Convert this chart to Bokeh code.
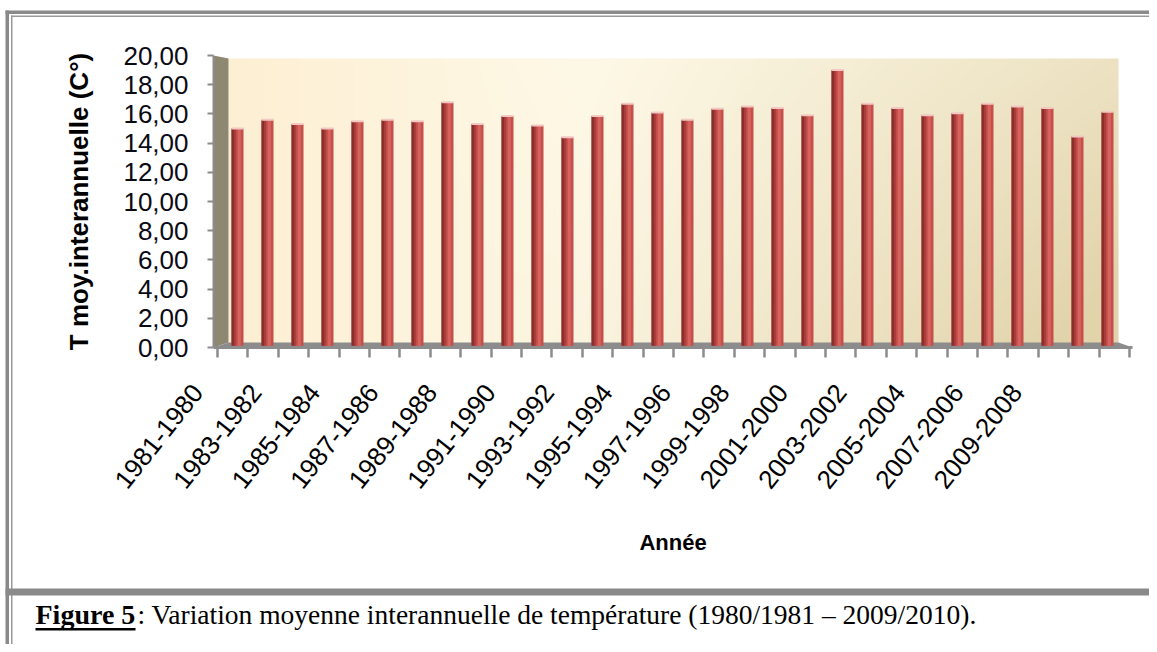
import numpy as np
from bokeh.plotting import figure
from bokeh.models import Range1d, FixedTicker, CustomJSTickFormatter, ColumnDataSource
from bokeh.core.properties import value
from bokeh.transform import dodge
from bokeh.embed import file_html
from bokeh.resources import INLINE

# ---------------- data ----------------
categories = ["1981-1980", "1982-1981", "1983-1982", "1984-1983", "1985-1984",
              "1986-1985", "1987-1986", "1988-1987", "1989-1988", "1990-1989",
              "1991-1990", "1992-1991", "1993-1992", "1994-1993", "1995-1994",
              "1996-1995", "1997-1996", "1998-1997", "1999-1998", "2000-1999",
              "2001-2000", "2002-2001", "2003-2002", "2004-2003", "2005-2004",
              "2006-2005", "2007-2006", "2008-2007", "2009-2008", "2010-2009"]
temperatures = [15.0, 15.6, 15.3, 15.0, 15.5, 15.6, 15.5, 16.8, 15.3, 15.85,
                15.2, 14.4, 15.85, 16.7, 16.1, 15.6, 16.35, 16.5, 16.4, 15.9,
                19.0, 16.7, 16.4, 15.9, 16.05, 16.7, 16.5, 16.4, 14.45, 16.15]
y_ticks = [0, 2, 4, 6, 8, 10, 12, 14, 16, 18, 20]
x_title = "Année"
y_title = "T moy.interannuelle (C°)"
caption_bold = "Figure 5"
caption_rest = ": Variation moyenne interannuelle de température (1980/1981 – 2009/2010)."

# ---------------- geometry ----------------
W, H = 1149, 644
FX0, FX1 = 213, 1132          # frame left/right in px
FY1, FY0 = 55, 347            # frame top/bottom in px
X0, X1 = -0.8, 29.833
Y0, Y1 = 0.0, 20.0


def dx(px):
    return X0 + (px - FX0) * (X1 - X0) / (FX1 - FX0)


def dy(py):
    return Y0 + (FY0 - py) * (Y1 - Y0) / (FY0 - FY1)


p = figure(width=W, height=H, output_backend="svg", toolbar_location=None,
           x_range=Range1d(X0, X1), y_range=Range1d(Y0, Y1),
           min_border_left=FX0, min_border_right=W - FX1,
           min_border_top=FY1, min_border_bottom=H - FY0)
p.background_fill_color = "white"
p.border_fill_color = "white"
p.outline_line_color = None
p.xgrid.visible = False
p.ygrid.visible = False

# ---------------- back wall (gradient) ----------------
Hh, Ww = 90, 450
u = np.linspace(0, 1, Ww)[None, :]
v = 1 - np.linspace(0, 1, Hh)[:, None]        # 0 at top, 1 at bottom
light = np.array([254, 249, 231], dtype=float)
peach = np.array([253, 239, 211], dtype=float)
dark = np.array([225, 211, 170], dtype=float)
w = np.clip(u / 0.4, 0, 1)[..., None]
c0 = peach * (1 - w) + light * w
t = np.clip(0.6 * np.maximum(u - 0.4, 0) / 0.6 + 0.5 * v * np.maximum(u - 0.2, 0) / 0.8, 0, 1)[..., None]
col = c0 * (1 - t) + dark * t
img = np.empty((Hh, Ww), dtype=np.uint32)
view = img.view(dtype=np.uint8).reshape((Hh, Ww, 4))
view[..., 0] = col[..., 0]
view[..., 1] = col[..., 1]
view[..., 2] = col[..., 2]
view[..., 3] = 255
wall_left, wall_right, wall_top = dx(228), dx(1118), dy(58)
p.image_rgba(image=[img], x=wall_left, y=0, dw=wall_right - wall_left, dh=wall_top)

# side wall and floor
p.patch([X0, wall_left, wall_left, X0], [0, 0.35, wall_top, Y1],
        fill_color="#8e8873", line_color=None)
p.patch([X0, X1, wall_right, wall_left], [0, 0, 0.35, 0.35],
        fill_color="#8c8c8c", line_color=None)

# ---------------- bars ----------------
idx = list(range(len(categories)))
src = ColumnDataSource(dict(x=idx, top=temperatures))
p.vbar(x="x", top="top", bottom=0.12, width=0.40, source=src,
       fill_color="#c4504c", line_color=None)
p.vbar(x=dodge("x", -0.15), top="top", bottom=0.12, width=0.10, source=src,
       fill_color="#8a2d2b", line_color=None)
p.vbar(x=dodge("x", -0.075), top="top", bottom=0.12, width=0.06, source=src,
       fill_color="#a83e3b", line_color=None)
p.vbar(x=dodge("x", 0.06), top="top", bottom=0.12, width=0.10, source=src,
       fill_color="#d8625d", line_color=None)
p.rect(x="x", y="top", width=0.40, height=2, height_units="screen", source=src,
       fill_color="#f1c8c2", line_color=None)

# ---------------- axes ----------------
tick_pos = [round(-0.667 + 1.0133 * k, 3) for k in range(len(categories) + 1)]
xa = p.xaxis[0]
xa.ticker = FixedTicker(ticks=tick_pos, minor_ticks=[])
xa.formatter = CustomJSTickFormatter(code="return '';")
xa.major_label_text_font_size = "0px"
xa.axis_line_color = "#8c8c8c"
xa.axis_line_width = 3
xa.major_tick_line_color = "#8c8c8c"
xa.major_tick_line_width = 2.5
xa.major_tick_out = 10
xa.major_tick_in = 0
xa.minor_tick_line_color = None
xa.axis_label = x_title
xa.axis_label_text_font = "Liberation Sans"
xa.axis_label_text_font_style = "bold"
xa.axis_label_text_font_size = "22px"
xa.axis_label_text_color = "#000000"
xa.axis_label_standoff = 172

ya = p.yaxis[0]
ya.ticker = FixedTicker(ticks=y_ticks, minor_ticks=[])
ya.formatter = CustomJSTickFormatter(code="return tick.toFixed(2).replace('.', ',');")
ya.major_label_text_font = "Liberation Sans"
ya.major_label_text_font_size = "26px"
ya.major_label_text_color = "#0a0a14"
ya.major_label_standoff = 19
ya.axis_line_color = "#8c8c8c"
ya.axis_line_width = 2
ya.major_tick_line_color = "#8c8c8c"
ya.major_tick_line_width = 2
ya.major_tick_out = 6
ya.major_tick_in = 0
ya.minor_tick_line_color = None
ya.axis_label = y_title
ya.axis_label_text_font = "Liberation Sans"
ya.axis_label_text_font_style = "bold"
ya.axis_label_text_font_size = "26px"
ya.axis_label_text_color = "#000000"
ya.axis_label_standoff = 26

# rotated category labels (every other category), drawn unclipped
lab_k = idx[::2]
step = dx(226.25) - dx(197)
lab_src = ColumnDataSource(dict(
    x=[dx(197) + step * k for k in lab_k],
    y=[dy(387)] * len(lab_k),
    text=[categories[k] for k in lab_k]))
p.text(x="x", y="y", text="text", source=lab_src, angle=0.9,
       text_align="right", text_baseline="middle",
       text_font=value("Liberation Sans"), text_font_size=value("26px"),
       text_color="#000000", level="overlay")

# ---------------- frame borders ----------------
def box(l, r, t_, b, color):
    p.quad(left=[dx(l)], right=[dx(r)], top=[dy(t_)], bottom=[dy(b)],
           fill_color=color, line_color=None, level="overlay")

box(5, 1157, 10, 13.5, "#8a8a8a")
box(10.5, 1157, 15, 16.5, "#9a9a9a")
box(5, 8.5, 10, 652, "#8a8a8a")
box(10.5, 12, 15, 652, "#9a9a9a")
box(5, 1157, 588, 595, "#8a8a8a")

# ---------------- caption ----------------
p.text(x=[dx(35)], y=[dy(614)], text=[caption_bold],
       text_font=value("Liberation Serif"), text_font_style="bold",
       text_font_size=value("28px"), text_color="#000000",
       text_baseline="middle", text_align="left", level="overlay")
p.text(x=[dx(137)], y=[dy(614)], text=[caption_rest],
       text_font=value("Liberation Serif"),
       text_font_size=value("27.5px"), text_color="#000000",
       text_baseline="middle", text_align="left", level="overlay")
box(35, 135, 627.5, 630, "#000000")

open("out.html", "w").write(file_html(p, INLINE))
